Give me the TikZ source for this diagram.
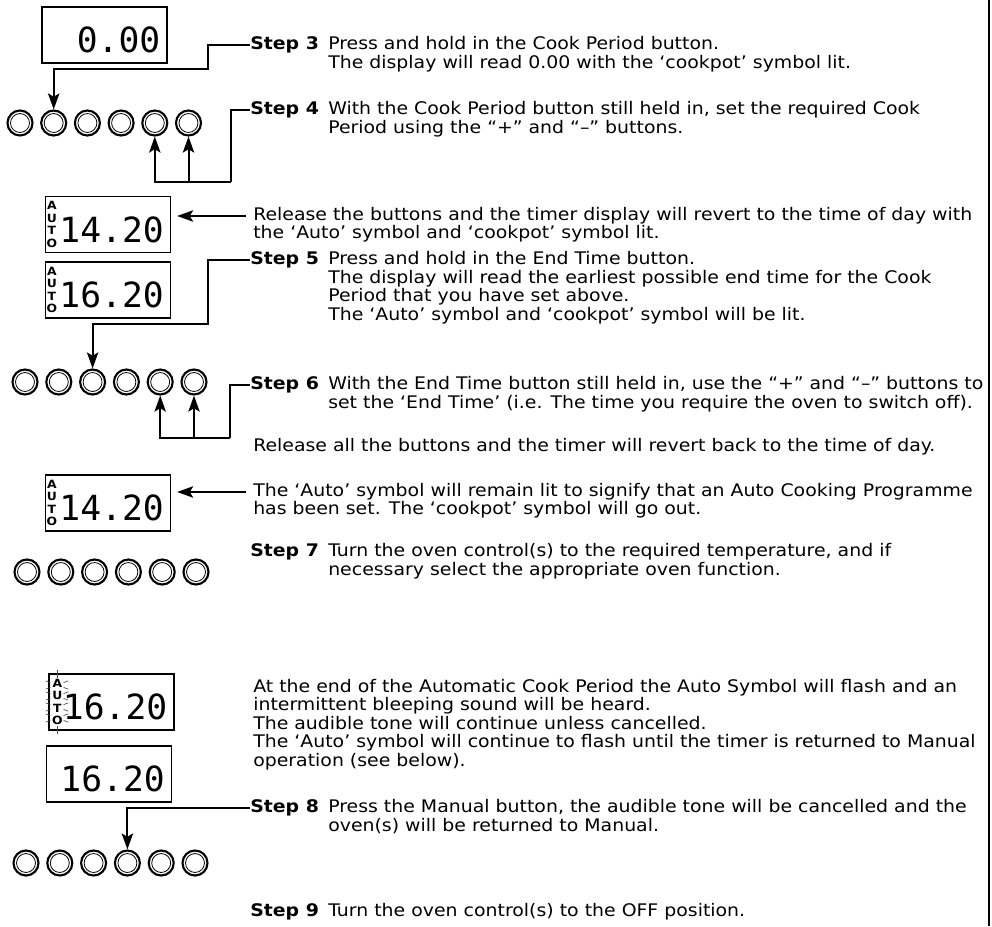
\documentclass[tikz,border=0pt]{standalone}
\usepackage{fontspec}
\setmainfont{DejaVu Sans}[FakeStretch=1.09]
\newfontfamily\lcdfont{DejaVu Sans Mono}
\usetikzlibrary{arrows.meta,positioning}
\newcommand{\para}[1]{\begin{tabular}[t]{@{}l@{}}#1\end{tabular}}

\begin{document}
\begin{tikzpicture}[x=0.75pt,y=-0.75pt,
    knob/.style={circle,draw,line width=1.6pt,minimum size=18.75pt,inner sep=0pt,
      path picture={\draw[line width=0.6pt] (path picture bounding box.center) circle (7.1pt);}},
    lcd/.style={draw,line width=0.9pt,minimum width=93.75pt,minimum height=42pt,inner xsep=5pt,
      text width=83.75pt,align=right,text height=26.5pt,text depth=0pt,
      font=\lcdfont\fontsize{26}{26}\selectfont},
    autotag/.style={font=\bfseries\fontsize{8.5}{9.3}\selectfont,align=center,inner sep=0pt},
    link/.style={line width=1.5pt},
    tip/.style={-{Stealth[length=12pt,width=8.5pt,inset=2.5pt]}},
    steplbl/.style={anchor=west,inner sep=0pt,font=\bfseries\fontsize{13}{13.5}\selectfont},
    body/.style={anchor=base west,inner sep=0pt,font=\fontsize{13}{13.5}\selectfont},
    ray/.style={line width=0.5pt,black!70}]
    \useasboundingbox (0,0) rectangle (992,926);
    \coordinate (col) at (328,0);
    %%frame
    \draw[line width=1.1pt] (989,0) -- (989,926);
    %%button rows
    \foreach \i in {1,...,6} {
      \node[knob] (a\i) at ({20+33.7*(\i-1)},123) {};
      \node[knob] (b\i) at ({25+33.8*(\i-1)},382) {};
      \node[knob] (c\i) at ({27+33.8*(\i-1)},572) {};
      \node[knob] (e\i) at ({26+33.8*(\i-1)},863) {};
    }
    %%displays
    \node[lcd] (d1) at (104.5,35) {0.00};
    \node[lcd] (d2) at (108,224.5) {14.20};
    \node[lcd] (d3) at (108,290) {16.20};
    \node[lcd] (d4) at (108,503) {14.20};
    \node[lcd] (d5) at (111.5,702) {16.20};
    \node[lcd] (d6) at (109,774) {16.20};
    \node[autotag] (u2) at ([xshift=5.25pt]d2.west) {A\\U\\T\\O};
    \node[autotag] (u3) at ([xshift=5.25pt]d3.west) {A\\U\\T\\O};
    \node[autotag] (u4) at ([xshift=5.25pt]d4.west) {A\\U\\T\\O};
    \node[autotag] (u5) at ([xshift=6.75pt]d5.west) {A\\U\\T\\O};
    %%flashing
    \foreach \yy in {685,696,707,718}
      \foreach \aa in {20,160,200,340}
        \draw[ray] (57,\yy) ++(\aa:7) -- ++(\aa:5);
    \draw[ray] (57,678) -- (57,670);
    \draw[ray] (57,726) -- (57,734);
    %%step 3
    \node[steplbl] (s3) at (250,45) {Step 3};
    \node[body] (t3) at (s3.base -| col) {\para{Press and hold in the Cook Period button.\\
      The display will read 0.00 with the ‘cookpot’ symbol lit.}};
    \draw[link,tip] (s3.west) -- ++(-42,0) -- ++(0,24) -| (a2.north);
    %%step 4
    \node[steplbl] (s4) at (250,110) {Step 4};
    \node[body] (t4) at (s4.base -| col) {\para{With the Cook Period button still held in, set the required Cook\\
      Period using the “+” and “–” buttons.}};
    \draw[link] (s4.west) -- ++(-19,0) -- ++(0,72) coordinate (k4);
    \draw[link,tip] (k4) -| (a5.south);
    \draw[link,tip] (a6.south |- k4) -- (a6.south);
    %%release
    \node[body] (r1) at (253,220.25) {\para{Release the buttons and the timer display will revert to the time of day with\\
      the ‘Auto’ symbol and ‘cookpot’ symbol lit.}};
    \coordinate (r1a) at ([shift={(-5pt,3.2pt)}]r1.base west);
    \draw[link,tip,shorten >=4.5pt] (r1a) -- (r1a -| d2.east);
    %%step 5
    \node[steplbl] (s5) at (250,260) {Step 5};
    \node[body] (t5) at (s5.base -| col) {\para{Press and hold in the End Time button.\\
      The display will read the earliest possible end time for the Cook\\
      Period that you have set above.\\
      The ‘Auto’ symbol and ‘cookpot’ symbol will be lit.}};
    \draw[link,tip] (s5.west) -- ++(-42,0) -- ++(0,64) -| (b3.north);
    %%step 6
    \node[steplbl] (s6) at (250,385) {Step 6};
    \node[body] (t6) at (s6.base -| col) {\para{With the End Time button still held in, use the “+” and “–” buttons to\\
      set the ‘End Time’ (i.e. The time you require the oven to switch off).}};
    \draw[link] (s6.west) -- ++(-20,0) -- ++(0,53) coordinate (k6);
    \draw[link,tip] (k6) -| (b5.south);
    \draw[link,tip] (b6.south |- k6) -- (b6.south);
    %%release all
    \node[body] (r2) at (253,451.25) {Release all the buttons and the timer will revert back to the time of day.};
    \node[body] (r3) at (253,496.25) {\para{The ‘Auto’ symbol will remain lit to signify that an Auto Cooking Programme\\
      has been set. The ‘cookpot’ symbol will go out.}};
    \coordinate (r3a) at ([shift={(-5pt,3.2pt)}]r3.base west);
    \draw[link,tip,shorten >=4.5pt] (r3a) -- (r3a -| d4.east);
    %%step 7
    \node[steplbl] (s7) at (250,552) {Step 7};
    \node[body] (t7) at (s7.base -| col) {\para{Turn the oven control(s) to the required temperature, and if\\
      necessary select the appropriate oven function.}};
    %%end of cooking
    \node[body] (r4) at (253,692.25) {\para{At the end of the Automatic Cook Period the Auto Symbol will flash and an\\
      intermittent bleeping sound will be heard.\\
      The audible tone will continue unless cancelled.\\
      The ‘Auto’ symbol will continue to flash until the timer is returned to Manual\\
      operation (see below).}};
    %%step 8
    \node[steplbl] (s8) at (250,808) {Step 8};
    \node[body] (t8) at (s8.base -| col) {\para{Press the Manual button, the audible tone will be cancelled and the\\
      oven(s) will be returned to Manual.}};
    \draw[link,tip] (s8.west) -| (e4.north);
    %%step 9
    \node[steplbl] (s9) at (250,912) {Step 9};
    \node[body] (t9) at (s9.base -| col) {Turn the oven control(s) to the OFF position.};
\end{tikzpicture}
\end{document}
